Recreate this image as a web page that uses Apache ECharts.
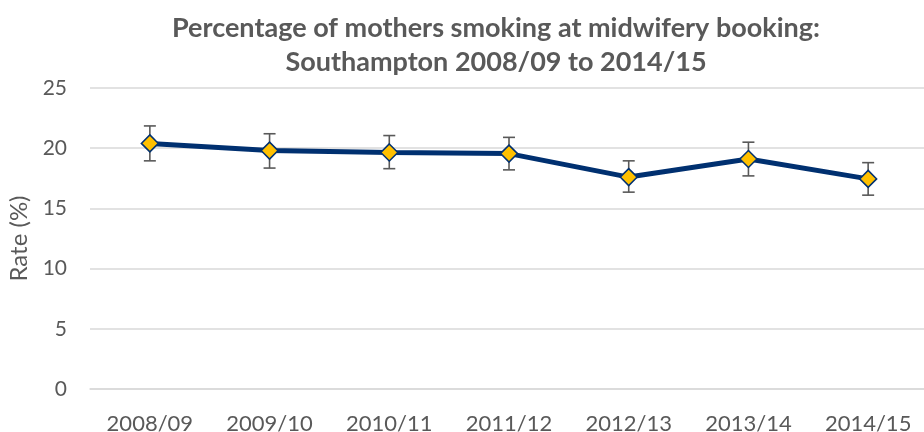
<!DOCTYPE html>
<html>
<head>
<meta charset="utf-8">
<script src="https://cdn.jsdelivr.net/npm/echarts@6/dist/echarts.min.js"></script>
<style>
  html, body { margin: 0; padding: 0; background: #fff; }
  #chart { width: 924px; height: 432px; }
</style>
</head>
<body>
<div id="chart"></div>
<script>
// === data ===
const years = ['2008/09', '2009/10', '2010/11', '2011/12', '2012/13', '2013/14', '2014/15']
const rate = [20.4, 19.8, 19.65, 19.55, 17.6, 19.1, 17.45]
const lower = [18.95, 18.35, 18.3, 18.2, 16.35, 17.7, 16.1]
const upper = [21.85, 21.2, 21.05, 20.9, 18.95, 20.5, 18.8]

const chart = echarts.init(document.getElementById('chart'))
const font = 'Lato, sans-serif'
const grey = '#595959'

// error bars drawn with a custom series
function renderErrorBar(params, api) {
  const x = api.value(0)
  const lo = api.coord([x, api.value(1)])
  const hi = api.coord([x, api.value(2)])
  const half = 6
  const style = { stroke: grey, lineWidth: 1.6 }
  return {
    type: 'group',
    children: [
      { type: 'line', shape: { x1: lo[0], y1: lo[1], x2: hi[0], y2: hi[1] }, style },
      { type: 'line', shape: { x1: hi[0] - half, y1: hi[1], x2: hi[0] + half, y2: hi[1] }, style },
      { type: 'line', shape: { x1: lo[0] - half, y1: lo[1], x2: lo[0] + half, y2: lo[1] }, style },
    ],
  }
}

const option = {
  animation: false,
  title: {
    text: 'Percentage of mothers smoking at midwifery booking:\nSouthampton 2008/09 to 2014/15',
    left: 491,
    textAlign: 'center',
    top: 6,
    textStyle: { fontFamily: font, fontSize: 27, fontWeight: 'bold', color: grey, lineHeight: 34 },
  },
  grid: { left: 90, right: -4, top: 88, bottom: 43, outerBoundsMode: 'none' },
  xAxis: {
    type: 'category',
    data: years,
    axisLine: { lineStyle: { color: '#d9d9d9', width: 1.5 } },
    axisTick: { show: false },
    axisLabel: { color: grey, fontFamily: font, fontSize: 22, margin: 24 },
  },
  yAxis: {
    type: 'value',
    min: 0,
    max: 25,
    interval: 5,
    name: 'Rate (%)',
    nameLocation: 'middle',
    nameGap: 58,
    nameTextStyle: { color: grey, fontFamily: font, fontSize: 24 },
    axisLine: { show: false },
    axisTick: { show: false },
    axisLabel: { color: grey, fontFamily: font, fontSize: 21, margin: 23 },
    splitLine: { lineStyle: { color: '#d9d9d9', width: 1.5 } },
  },
  series: [
    {
      type: 'custom',
      renderItem: renderErrorBar,
      data: years.map((y, i) => [i, lower[i], upper[i]]),
      z: 1,
    },
    {
      type: 'line',
      data: rate,
      symbol: 'diamond',
      symbolSize: 17,
      lineStyle: { color: '#003070', width: 5 },
      itemStyle: { color: '#FFC000', borderColor: '#003070', borderWidth: 1.5 },
      z: 2,
    },
  ],
}

chart.setOption(option)
window.addEventListener('resize', () => chart.resize())
</script>
</body>
</html>
